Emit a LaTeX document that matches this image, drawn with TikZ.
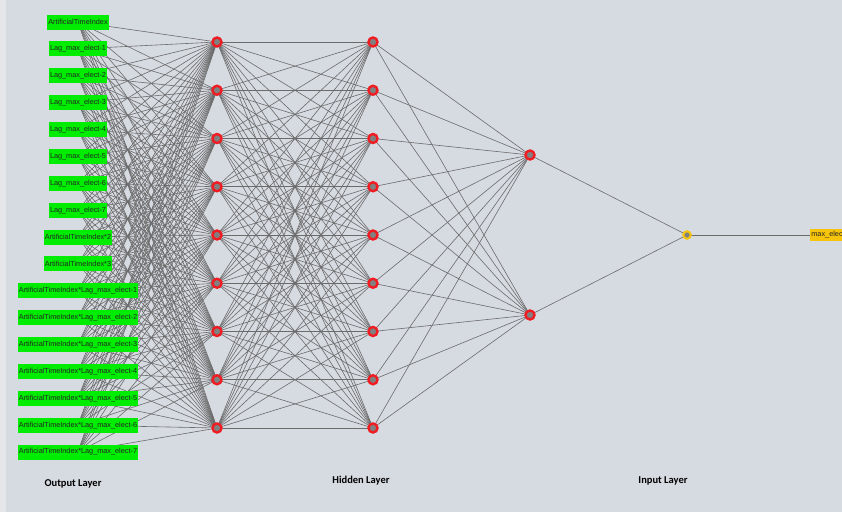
\documentclass[tikz,border=0pt]{standalone}
\usepackage{fontspec}
\newfontfamily\boxfont{Liberation Sans}
\newfontfamily\capfont{Carlito}
\usetikzlibrary{backgrounds}

\definecolor{canvas}{RGB}{214,218,225}
\definecolor{strip}{RGB}{228,230,234}
\definecolor{ingreen}{RGB}{0,236,0}
\definecolor{ringred}{RGB}{240,28,34}
\definecolor{outyellow}{RGB}{246,196,10}

\begin{document}
\begin{tikzpicture}[x=1pt, y=-1pt,
  inbox/.style={fill=ingreen, minimum height=15pt, inner sep=1.2pt,
                font=\boxfont\fontsize{7.3}{8}\selectfont, text=black!85},
  neuron/.style={circle, draw=ringred, line width=2.4pt, fill=gray,
                 minimum size=9pt, inner sep=0pt},
  outneuron/.style={circle, draw=outyellow, line width=2pt, fill=gray,
                    minimum size=7.5pt, inner sep=0pt},
  outbox/.style={fill=outyellow, minimum height=12pt, inner sep=1.2pt,
                 font=\boxfont\fontsize{7.3}{8}\selectfont, text=black!85},
  wire/.style={draw=black!58, line width=0.6pt},
  layer/.style={font=\capfont\bfseries\fontsize{10.5}{12}\selectfont}]

  \useasboundingbox (0,0) rectangle (842,512);
  \clip (0,0) rectangle (842,512);

  \def\iy{26.875}
  \def\hy{48.25}

  % Input variables (left column, boxes centred on x = 78)
  \foreach \txt [count=\i from 0] in {ArtificialTimeIndex, Lag\_max\_elect-1,
      Lag\_max\_elect-2, Lag\_max\_elect-3, Lag\_max\_elect-4, Lag\_max\_elect-5,
      Lag\_max\_elect-6, Lag\_max\_elect-7, ArtificialTimeIndex*2,
      ArtificialTimeIndex*3,
      ArtificialTimeIndex*Lag\_max\_elect-1, ArtificialTimeIndex*Lag\_max\_elect-2,
      ArtificialTimeIndex*Lag\_max\_elect-3, ArtificialTimeIndex*Lag\_max\_elect-4,
      ArtificialTimeIndex*Lag\_max\_elect-5, ArtificialTimeIndex*Lag\_max\_elect-6,
      ArtificialTimeIndex*Lag\_max\_elect-7}
    \node[inbox] (in\i) at (78, 22+\i*\iy) {\txt};

  % Hidden columns
  \foreach \j in {0,...,8} {
    \node[neuron] (ha\j) at (217, 42+\j*\hy) {};
    \node[neuron] (hb\j) at (373, 42+\j*\hy) {};
  }
  \node[neuron] (hc0) at (530, 155) {};
  \node[neuron] (hc1) at (530, 315) {};

  % Output unit and target
  \node[outneuron] (out) at (687, 235) {};
  \node[outbox, anchor=west] (target) at (810, 235) {max\_elect};

  % Connections behind everything
  \begin{scope}[on background layer]
    \fill[canvas] (0,0) rectangle (842,512);
    \fill[strip] (0,0) rectangle (6,512);
    \foreach \i in {0,...,16}
      \foreach \j in {0,...,8}
        \draw[wire] (in\i.center) -- (ha\j.center);
    \foreach \j in {0,...,8}
      \foreach \k in {0,...,8}
        \draw[wire] (ha\j.center) -- (hb\k.center);
    \foreach \j in {0,...,8}
      \foreach \k in {0,1}
        \draw[wire] (hb\j.center) -- (hc\k.center);
    \draw[wire] (hc0.center) -- (out.center) -- (hc1.center);
    \draw[wire] (out.center) -- (target.west);
  \end{scope}

  % Layer captions
  \node[layer] (capout) at (73, 484) {Output Layer};
  \node[layer] (caphid) at (361, 481) {Hidden Layer};
  \node[layer] (capin) at (663, 481) {Input Layer};

\end{tikzpicture}
\end{document}
